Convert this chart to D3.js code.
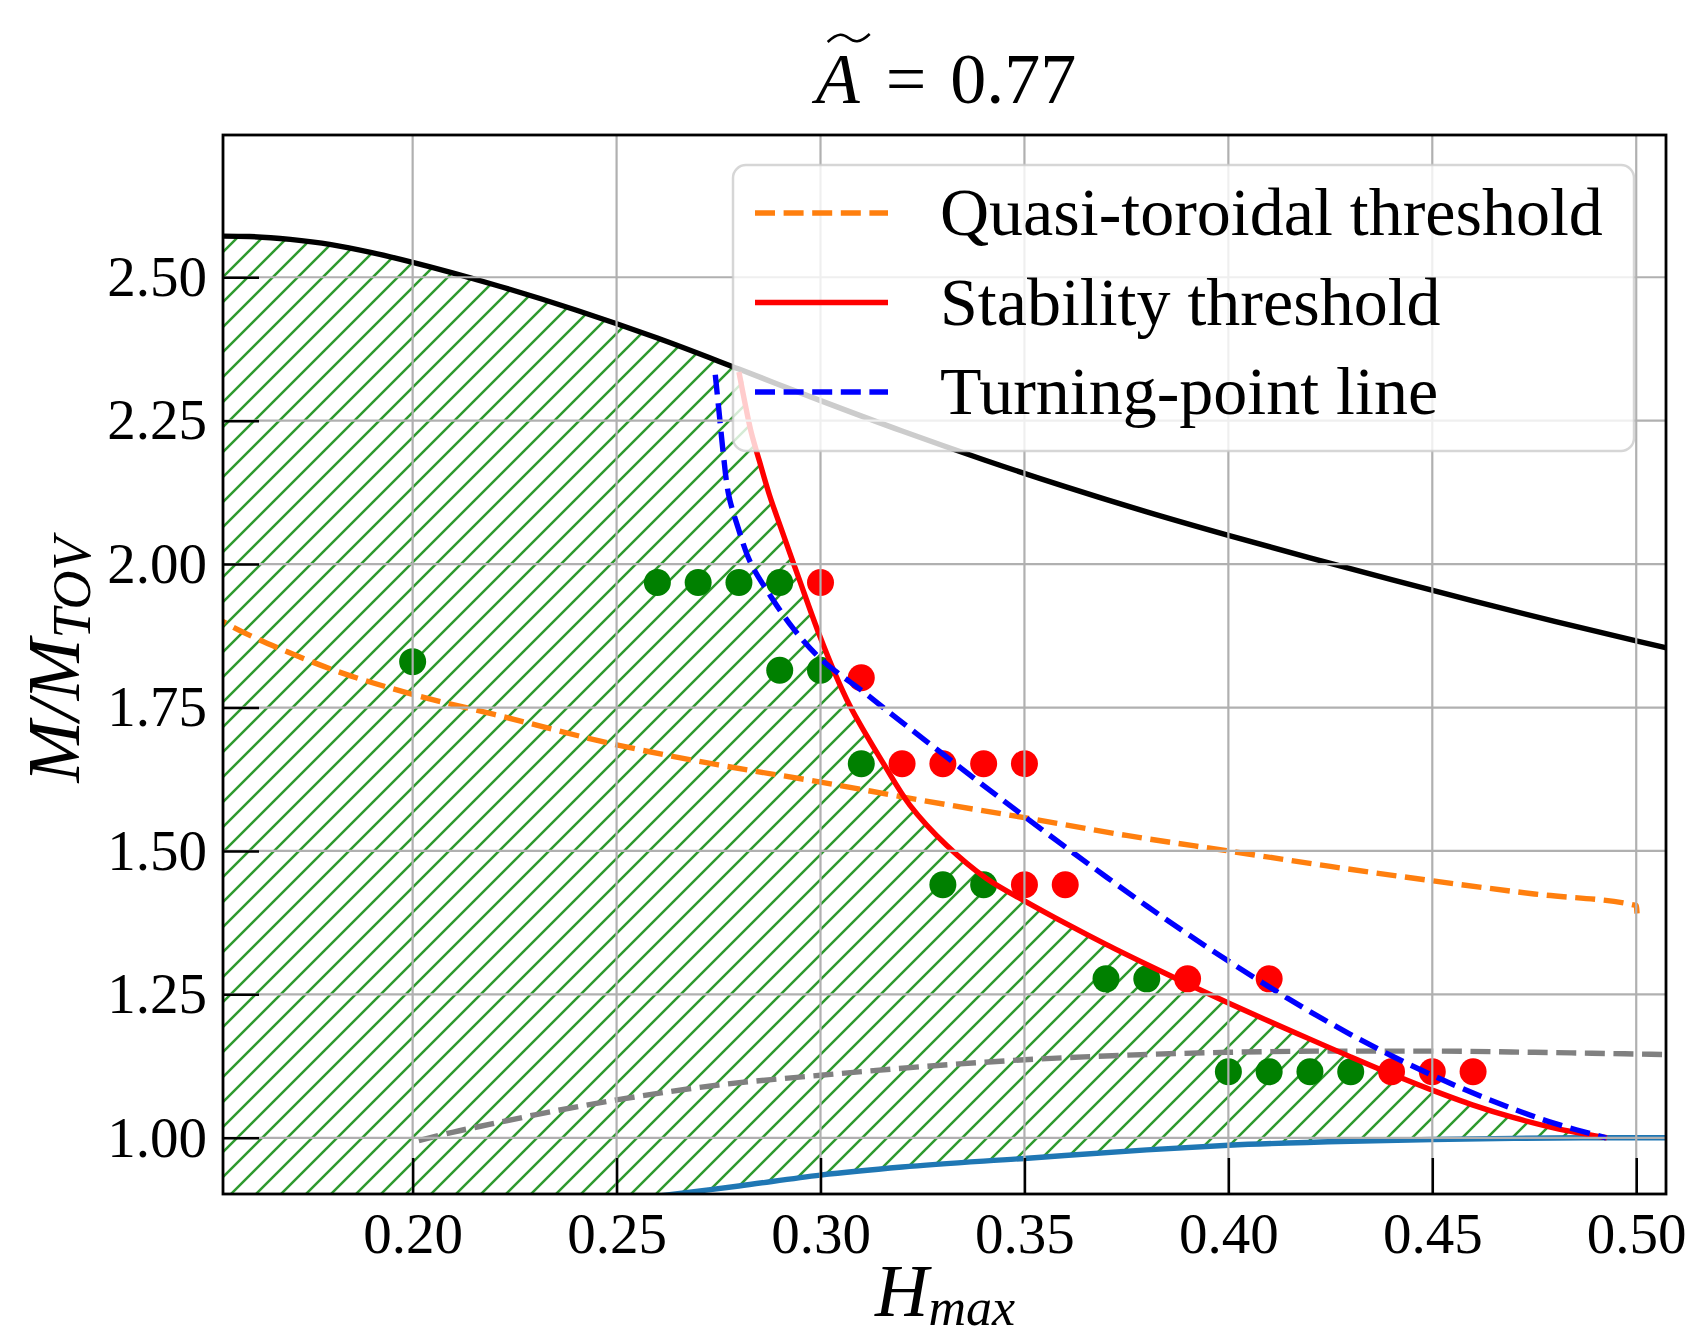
<!DOCTYPE html>
<html><head><meta charset="utf-8">
<script src="https://cdn.jsdelivr.net/npm/d3@7"></script>
<style>
body{margin:0;background:#fff}
svg{display:block}
text{font-family:"Liberation Serif","DejaVu Serif",serif;fill:#000}
</style>
</head><body>
<svg id="c" width="1691" height="1338"></svg>
<script>
// ---------- data ----------
const xTicks = [0.20, 0.25, 0.30, 0.35, 0.40, 0.45, 0.50];
const yTicks = [1.00, 1.25, 1.50, 1.75, 2.00, 2.25, 2.50];

const blackLine = [[0.15,2.572],[0.16,2.571],[0.17,2.566],[0.18,2.557],[0.19,2.543],[0.20,2.526],[0.22,2.487],[0.24,2.443],[0.26,2.394],[0.28,2.340],[0.30,2.285],[0.32,2.232],[0.34,2.182],[0.36,2.135],[0.38,2.091],[0.40,2.050],[0.42,2.011],[0.44,1.973],[0.46,1.936],[0.48,1.900],[0.50,1.866],[0.51,1.850]];

const quasiToroidal = [[0.15,1.915],[0.1535,1.900],[0.17,1.845],[0.18,1.817],[0.20,1.773],[0.22,1.738],[0.25,1.685],[0.275,1.650],[0.30,1.620],[0.325,1.588],[0.35,1.558],[0.375,1.527],[0.40,1.500],[0.425,1.473],[0.45,1.448],[0.475,1.425],[0.50,1.405],[0.5002,1.391]];

const stability = [[0.2800,2.335],[0.2815,2.28],[0.2830,2.23],[0.2850,2.18],[0.2875,2.12],[0.2902,2.065],[0.2947,1.975],[0.2998,1.875],[0.3035,1.81],[0.3072,1.753],[0.3110,1.705],[0.3153,1.654],[0.3219,1.580],[0.3309,1.510],[0.3407,1.452],[0.350,1.413],[0.360,1.374],[0.370,1.337],[0.380,1.302],[0.390,1.268],[0.400,1.235],[0.410,1.203],[0.420,1.172],[0.430,1.141],[0.440,1.111],[0.450,1.083],[0.460,1.057],[0.470,1.035],[0.480,1.017],[0.4928,1.000]];

const turningPoint = [[0.2742,2.33],[0.2752,2.26],[0.2762,2.19],[0.2775,2.12],[0.2799,2.061],[0.2828,2.003],[0.2877,1.945],[0.2934,1.887],[0.300,1.835],[0.3113,1.773],[0.320,1.724],[0.330,1.669],[0.340,1.614],[0.350,1.560],[0.360,1.507],[0.370,1.455],[0.380,1.404],[0.390,1.355],[0.400,1.308],[0.410,1.263],[0.420,1.220],[0.430,1.180],[0.440,1.143],[0.450,1.109],[0.460,1.078],[0.470,1.050],[0.480,1.025],[0.4926,1.000]];

const greyDashed = [[0.2015,0.995],[0.21,1.010],[0.22,1.025],[0.23,1.040],[0.25,1.066],[0.275,1.092],[0.30,1.109],[0.325,1.124],[0.35,1.136],[0.375,1.144],[0.40,1.149],[0.425,1.151],[0.45,1.151],[0.475,1.149],[0.50,1.146],[0.5075,1.145]];

const blueSolid = [[0.26,0.898],[0.27,0.907],[0.28,0.916],[0.30,0.935],[0.32,0.949],[0.35,0.964],[0.38,0.979],[0.40,0.987],[0.43,0.994],[0.45,0.997],[0.47,0.999],[0.49,1.000],[0.5075,1.000]];

const greenDots = [[0.20,1.830],[0.26,1.968],[0.27,1.968],[0.28,1.968],[0.29,1.968],[0.29,1.815],[0.30,1.815],[0.31,1.652],[0.33,1.441],[0.34,1.441],[0.37,1.277],[0.38,1.277],[0.40,1.115],[0.41,1.115],[0.42,1.115],[0.43,1.115]];
const redDots = [[0.30,1.968],[0.31,1.802],[0.32,1.652],[0.33,1.652],[0.34,1.652],[0.35,1.652],[0.35,1.441],[0.36,1.441],[0.39,1.277],[0.41,1.277],[0.44,1.115],[0.45,1.115],[0.46,1.115]];

const legendLabels = ["Quasi-toroidal threshold", "Stability threshold", "Turning-point line"];

// ---------- layout ----------
const L = 223, R = 1666, T = 135, B = 1194;
const x = d3.scaleLinear().domain([0.1535, 0.5073]).range([L, R]);
const y = d3.scaleLinear().domain([0.902, 2.748]).range([B, T]);
const svg = d3.select("#c");
const defs = svg.append("defs");
defs.append("clipPath").attr("id","clip").append("rect")
  .attr("x",L).attr("y",T).attr("width",R-L).attr("height",B-T);
const HS = 25;
const pat = defs.append("pattern").attr("id","hatch").attr("patternUnits","userSpaceOnUse")
  .attr("width",HS).attr("height",HS);
pat.append("path").attr("d",`M-5,5 L5,-5 M0,${HS} L${HS},0 M${HS-5},${HS+5} L${HS+5},${HS-5}`)
  .attr("stroke","#2e9a2e").attr("stroke-width",2.5).attr("fill","none");

const lineC = d3.line().x(d=>x(d[0])).y(d=>y(d[1])).curve(d3.curveCatmullRom.alpha(0.5));
const lineM = d3.line().x(d=>x(d[0])).y(d=>y(d[1])).curve(d3.curveMonotoneX);
const plot = svg.append("g").attr("clip-path","url(#clip)");

// hatched stable region
const topPts = blackLine.filter(d=>d[0]<0.28).concat(stability);
const botPts = blueSolid.filter(d=>d[0]<=0.4928).slice().reverse();
const regionPath = lineC(topPts) + lineM(botPts).replace(/^M/,"L") +
  "L" + x(0.26) + "," + y(0.85) + "L" + x(0.15) + "," + y(0.85) + "Z";
plot.append("path").attr("d",regionPath).attr("fill","url(#hatch)").attr("stroke","none");

// scatter
plot.selectAll("circle.g").data(greenDots).join("circle").attr("class","g")
  .attr("cx",d=>x(d[0])).attr("cy",d=>y(d[1])).attr("r",13.5).attr("fill","#008000");
plot.selectAll("circle.r").data(redDots).join("circle").attr("class","r")
  .attr("cx",d=>x(d[0])).attr("cy",d=>y(d[1])).attr("r",13.5).attr("fill","#ff0000");

// grid
const grid = svg.append("g");
grid.selectAll("line.gx").data(xTicks).join("line").attr("class","gx")
  .attr("x1",d=>x(d)).attr("x2",d=>x(d)).attr("y1",T).attr("y2",B)
  .attr("stroke","#b0b0b0").attr("stroke-width",2.2);
grid.selectAll("line.gy").data(yTicks).join("line").attr("class","gy")
  .attr("y1",d=>y(d)).attr("y2",d=>y(d)).attr("x1",L).attr("x2",R)
  .attr("stroke","#b0b0b0").attr("stroke-width",2.2);

// lines
const LW = 5.4;
const dash = "20,8.6";
function drawLine(gen, data, color, w, da){
  plot.append("path").attr("d",gen(data)).attr("fill","none")
    .attr("stroke",color).attr("stroke-width",w)
    .attr("stroke-dasharray",da||null).attr("stroke-linejoin","round");
}
drawLine(lineM, greyDashed, "#808080", LW, dash);
drawLine(lineM, blueSolid, "#1f77b4", LW);
drawLine(lineM, quasiToroidal, "#ff7f0e", LW, dash);
drawLine(lineM, blackLine, "#000000", LW);
drawLine(lineC, stability, "#ff0000", LW);
drawLine(lineC, turningPoint, "#0000ff", LW, dash);

// axes
const xAxis = d3.axisBottom(x).tickValues(xTicks).tickFormat(d3.format(".2f")).tickSize(-36).tickPadding(19);
const yAxis = d3.axisLeft(y).tickValues(yTicks).tickFormat(d3.format(".2f")).tickSize(-36).tickPadding(16);
const gx = svg.append("g").attr("transform",`translate(0,${B})`).call(xAxis);
const gy = svg.append("g").attr("transform",`translate(${L},0)`).call(yAxis);
[gx,gy].forEach(g=>{
  g.select(".domain").remove();
  g.selectAll(".tick line").attr("stroke","#000").attr("stroke-width",2.5);
  g.selectAll(".tick text").attr("font-size",57).attr("font-family","Liberation Serif, serif").attr("fill","#000");
});
svg.append("rect").attr("x",L).attr("y",T).attr("width",R-L).attr("height",B-T)
  .attr("fill","none").attr("stroke","#000").attr("stroke-width",2.8);

// legend
const lg = svg.append("g");
lg.append("rect").attr("x",733).attr("y",165).attr("width",901).attr("height",286).attr("rx",13)
  .attr("fill","#fff").attr("fill-opacity",0.8).attr("stroke","#cccccc").attr("stroke-opacity",0.8).attr("stroke-width",2.5);
const legendStyles = [["#ff7f0e",dash],["#ff0000",null],["#0000ff",dash]];
const rowY = [213, 302.5, 392];
legendLabels.forEach((t,i)=>{
  lg.append("line").attr("x1",755).attr("x2",888).attr("y1",rowY[i]).attr("y2",rowY[i])
    .attr("stroke",legendStyles[i][0]).attr("stroke-width",LW).attr("stroke-dasharray",legendStyles[i][1]);
  lg.append("text").attr("x",940).attr("y",rowY[i]).attr("dy","0.33em").attr("font-size",68).text(t);
});

// title  Ã = 0.77
const title = svg.append("text").attr("y",103).attr("font-size",72);
title.append("tspan").attr("font-style","italic").text("A");
title.append("tspan").attr("dx",8).text(" = ");
title.append("tspan").attr("dx",6).text("0.77");
const tw = title.node().getComputedTextLength() + 14;
title.attr("x", 946 - tw/2);
const aStart = title.node().getStartPositionOfChar(0).x, aEnd = title.node().getEndPositionOfChar(0).x;
const tx0 = aStart + 12, tx1 = aEnd + 10, tyc = 38, tq = (tx1 - tx0)/4;
svg.append("path")
  .attr("d",`M${tx0},${tyc+4} C${tx0+tq},${tyc-6} ${tx0+tq*1.5},${tyc-4} ${tx0+tq*2},${tyc} S${tx1-tq},${tyc+6} ${tx1},${tyc-4}`)
  .attr("fill","none").attr("stroke","#000").attr("stroke-width",2.6);

// x label
const xl = svg.append("text").attr("x",945).attr("y",1316).attr("text-anchor","middle").attr("font-size",74).attr("font-style","italic");
xl.append("tspan").text("H");
xl.append("tspan").attr("font-size",52).attr("dy",9).text("max");

// y label
const yl = svg.append("text").attr("transform","translate(79,660) rotate(-90)").attr("text-anchor","middle").attr("font-size",74).attr("font-style","italic");
yl.append("tspan").text("M/M");
yl.append("tspan").attr("font-size",54).attr("dy",11).text("TOV");
</script>
</body></html>
